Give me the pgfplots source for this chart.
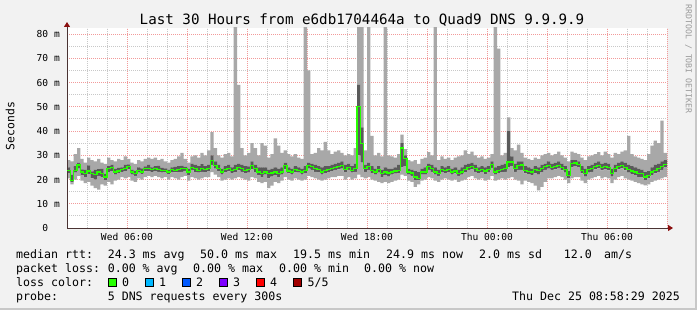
\documentclass[border=0pt]{standalone}
\usepackage{pgfplots}
\pgfplotsset{compat=1.18}
\usepackage{pgfplotstable}
\usetikzlibrary{arrows.meta}
\usepackage{fontspec}
\setmainfont{DejaVu Sans Mono}
\newfontfamily\mono{DejaVu Sans Mono}

\definecolor{bg}{HTML}{F2F2F2}
\definecolor{frame}{HTML}{C8C8C8}
\definecolor{gridred}{HTML}{F29A9A}
\definecolor{gridgray}{HTML}{C8C8C8}
\definecolor{smokelight}{HTML}{A8A8A8}
\definecolor{smokedark}{HTML}{5A5A5A}
\definecolor{medgreen}{HTML}{26FF00}
\definecolor{axiscol}{HTML}{4A3333}
\definecolor{arrowred}{HTML}{8B1010}
\definecolor{lossa}{HTML}{26FF00}
\definecolor{lossb}{HTML}{00B8FF}
\definecolor{lossc}{HTML}{0059FF}
\definecolor{lossd}{HTML}{7E00FF}
\definecolor{losse}{HTML}{FF0000}
\definecolor{lossf}{HTML}{A10000}
\definecolor{wmark}{HTML}{9A9A9A}

% one row per 10-minute step from Wed 03:00 (values in ms)
\pgfplotstableread{
lo q1 med q3 hi
20.5 22.6 23.8 25.0 28.0
18.0 18.8 19.5 22.0 27.5
20.0 22.8 23.8 25.5 30.5
21.5 24.5 26.0 27.0 33.0
19.5 21.8 23.1 24.2 28.5
18.5 21.0 22.4 24.0 27.0
19.0 22.2 23.5 25.8 29.0
17.5 20.5 22.4 23.4 28.0
16.5 20.0 22.1 24.0 27.5
15.8 21.5 23.1 24.3 28.5
18.0 21.0 22.4 24.5 27.0
17.5 19.8 21.0 22.3 26.5
19.0 23.0 24.4 25.5 29.0
18.0 23.5 25.1 26.0 28.0
19.5 22.0 23.1 24.5 27.5
20.0 22.6 23.5 24.8 28.5
21.0 23.0 24.0 25.0 28.0
20.5 23.5 24.4 26.0 29.5
21.0 24.2 25.4 26.2 28.5
19.5 22.0 23.1 24.0 27.0
19.0 21.5 22.4 23.6 26.5
20.5 22.8 23.8 25.0 28.0
20.0 22.2 23.1 24.6 27.5
21.0 23.4 24.4 25.4 28.5
21.5 23.5 24.4 26.0 29.0
21.0 23.0 24.0 25.0 28.5
21.5 23.5 24.4 25.5 29.0
21.0 23.2 24.0 25.6 28.0
20.5 22.8 23.8 24.8 28.5
21.0 23.0 23.8 24.6 27.5
20.0 22.2 23.1 24.0 27.0
21.0 23.0 24.0 25.0 28.0
20.5 22.9 23.8 25.2 28.5
20.0 23.0 24.0 25.5 29.5
21.0 23.2 24.4 25.6 31.0
21.5 23.6 24.4 25.2 28.5
19.5 21.8 23.1 24.5 27.0
21.0 24.0 25.1 26.5 29.5
20.5 23.0 24.4 26.0 30.0
20.0 22.8 23.8 25.5 29.0
20.5 23.2 24.4 26.3 31.0
21.0 23.0 24.0 25.5 30.0
21.0 23.5 24.4 26.0 32.0
23.0 26.0 27.9 30.0 39.5
22.0 24.5 25.8 27.5 33.0
21.0 23.5 24.5 26.0 30.0
19.5 22.0 23.1 24.5 29.0
20.0 23.0 24.0 25.5 30.5
20.5 23.4 24.4 26.0 31.0
20.0 22.6 23.8 25.0 29.5
20.5 23.0 24.0 26.0 90.0
21.0 23.8 24.9 26.5 59.0
20.5 23.2 24.4 26.0 33.0
20.0 22.6 23.8 25.5 30.0
19.5 22.8 24.0 25.4 31.0
21.0 24.2 25.8 27.5 35.0
20.5 23.0 24.4 26.0 33.0
19.0 21.8 23.1 25.0 30.0
18.5 21.0 22.4 25.0 35.0
19.0 22.0 23.1 25.0 34.0
16.4 20.5 22.4 24.0 29.0
17.5 21.2 22.7 24.5 30.5
19.0 21.8 23.1 25.0 37.0
18.5 21.0 22.4 24.5 34.0
19.5 22.0 23.1 25.0 31.0
21.0 24.2 25.8 27.0 32.0
20.0 22.5 23.5 25.0 30.5
19.5 22.0 23.1 24.5 29.5
20.5 23.0 24.0 25.5 30.5
20.0 22.8 23.8 25.0 29.0
19.5 22.0 23.1 24.5 28.5
20.0 22.6 23.8 25.5 90.0
21.5 24.5 25.8 27.0 65.0
21.0 24.0 25.4 26.5 30.5
20.5 23.2 24.4 26.0 31.0
20.0 23.0 24.0 25.5 33.0
19.5 22.0 23.1 25.0 32.0
20.0 22.6 23.8 25.5 35.5
20.5 23.0 24.0 25.5 32.0
21.0 23.5 24.4 26.0 30.5
21.0 24.0 25.1 26.5 31.5
21.5 24.2 25.4 27.0 32.0
21.5 24.5 25.8 27.5 31.0
20.0 23.0 24.0 26.0 30.0
21.0 24.0 25.1 26.5 30.5
20.0 22.8 23.8 25.5 30.0
20.5 23.2 24.4 26.5 33.0
22.0 30.0 50.0 59.0 90.0
21.0 27.0 35.0 41.5 90.0
20.5 23.2 24.4 26.0 32.0
21.0 24.0 25.4 27.0 90.0
20.0 22.6 23.8 25.5 38.0
19.5 22.0 23.1 24.5 30.0
19.0 22.8 24.0 25.5 31.0
18.5 21.0 22.4 24.0 29.5
19.0 21.8 23.1 25.0 90.0
18.5 21.2 22.7 24.5 30.0
19.0 22.0 23.1 24.5 29.5
19.5 22.4 23.5 25.0 29.0
20.0 22.6 23.8 26.0 30.5
22.0 25.0 33.0 35.0 38.5
21.5 25.5 28.8 30.0 32.5
19.5 22.0 23.1 24.5 28.0
19.0 21.5 22.7 24.0 27.5
17.0 19.8 21.0 23.5 28.0
18.0 19.6 20.4 23.0 26.5
19.5 22.0 23.1 24.5 28.5
20.0 22.0 23.1 25.0 29.0
21.0 24.0 25.4 26.5 31.3
20.5 23.2 24.4 26.0 30.0
19.5 22.0 23.1 25.0 90.0
19.0 21.5 22.4 24.0 28.0
20.0 23.0 24.0 25.5 29.5
20.5 22.6 23.8 25.0 28.5
20.0 23.0 24.0 25.5 29.0
19.5 22.0 23.1 24.5 28.0
20.0 22.5 23.5 25.0 29.0
19.0 21.5 22.4 24.0 29.5
19.5 22.0 23.1 25.0 30.0
20.0 23.0 24.0 26.0 32.0
21.0 24.0 25.1 26.5 30.5
21.5 24.2 25.4 27.0 31.5
20.5 23.2 24.4 26.0 30.0
20.0 22.6 23.8 25.0 29.0
20.5 23.0 24.0 25.5 29.5
19.5 22.2 23.5 25.0 28.5
20.0 23.0 24.0 25.5 29.0
21.5 24.8 26.2 27.5 30.5
19.5 22.0 23.1 25.0 90.0
20.0 22.6 23.8 25.5 74.0
20.5 23.0 24.0 26.0 30.0
20.0 23.2 24.4 26.5 31.0
20.5 25.0 27.2 40.0 45.6
21.0 25.5 27.2 29.5 33.0
20.0 23.2 24.5 26.5 32.0
19.5 24.0 25.8 27.5 34.4
18.0 24.0 26.0 27.5 31.0
19.5 22.5 23.8 25.5 29.0
19.0 22.2 23.4 25.0 28.5
18.5 21.8 23.1 24.5 28.0
17.5 22.5 24.0 25.5 29.0
15.5 22.0 23.8 25.0 28.5
17.0 23.0 24.4 26.0 30.0
19.0 24.0 25.4 26.5 30.5
20.5 24.5 25.8 27.5 31.0
20.5 24.0 25.1 26.5 30.0
21.0 24.2 25.4 27.0 30.5
21.5 24.8 25.8 27.5 31.5
21.0 23.8 25.1 26.5 30.0
20.0 22.8 24.0 25.5 29.0
18.5 20.5 21.7 23.5 27.5
20.5 25.0 26.5 28.0 31.5
21.0 25.5 26.8 28.0 31.0
21.0 25.0 26.2 27.5 30.5
19.5 22.5 23.8 25.5 29.0
18.5 21.2 22.4 24.5 28.0
20.0 22.8 24.0 25.5 29.5
20.5 23.2 24.4 26.0 30.0
21.0 24.2 25.4 27.0 30.5
21.5 24.6 25.8 27.5 31.3
20.5 23.8 25.1 26.5 30.0
21.0 24.2 25.4 27.0 31.5
20.5 23.8 24.9 26.5 30.5
18.5 21.2 22.4 24.5 29.0
20.0 23.0 24.4 26.0 31.0
21.0 24.2 25.4 27.0 30.5
21.5 24.6 25.8 27.5 31.5
20.5 23.8 25.1 27.0 32.0
20.0 22.8 24.0 26.0 38.0
19.5 22.2 23.5 25.5 30.5
19.0 21.8 23.1 25.0 29.5
18.5 21.0 22.4 24.5 29.0
18.0 21.0 22.4 24.0 28.5
17.6 19.8 21.0 23.0 28.0
18.0 20.5 21.7 23.5 30.5
19.0 21.8 23.1 25.0 34.0
19.5 22.5 23.8 26.0 36.0
20.0 23.2 24.4 26.5 35.0
20.5 24.0 25.4 27.5 44.3
21.0 25.0 26.2 28.0 31.0
21.0 25.0 26.2 28.0 31.0
}\rtt

\pgfplotsset{
  base/.style={
    at={(67bp,82bp)}, anchor=south west,
    scale only axis, width=600bp, height=200bp,
    xmin=0, xmax=30, ymin=0, ymax=82.5,
    clip=true,
  },
}

\begin{document}
\begin{tikzpicture}[x=1bp,y=1bp]
\fill[bg] (0,0) rectangle (697,310);
\useasboundingbox (0,0) rectangle (697,310);
\draw[frame, line width=2bp] (0,1) -- (696,1) -- (696,310);

% grid, smoke
\begin{axis}[base,
  axis background/.style={fill=white},
  axis lines=left,
  axis line style={draw=none},
  xtick={0,3,...,30},
  xticklabels={,Wed 06:00,,Wed 12:00,,Wed 18:00,,Thu 00:00,,Thu 06:00,},
  minor x tick num=2,
  ytick={0,10,...,80},
  yticklabels={0\hphantom{mm},10 m,20 m,30 m,40 m,50 m,60 m,70 m,80 m},
  minor y tick num=1,
  major tick length=0pt, minor tick length=0pt,
  grid=both,
  major grid style={draw=gridred, line width=1bp, dash pattern=on 1bp off 1bp},
  minor grid style={draw=gridgray, line width=1bp, dash pattern=on 1bp off 1bp},
  ticklabel style={font=\mono\fontsize{9.6bp}{11bp}\selectfont, text=black},
  yticklabel style={anchor=east, inner sep=0pt, xshift=-7bp},
  xticklabel style={anchor=north, inner sep=0pt, yshift=-5bp},
  ybar stacked, bar width=0.1667, bar shift=0pt,
]
\addplot[fill=none, draw=none] table[x expr=\coordindex/6+1/12, y=lo]{\rtt};
\addplot[fill=smokelight, draw=none] table[x expr=\coordindex/6+1/12, y expr=\thisrow{q1}-\thisrow{lo}]{\rtt};
\addplot[fill=smokedark, draw=none] table[x expr=\coordindex/6+1/12, y expr=\thisrow{q3}-\thisrow{q1}]{\rtt};
\addplot[fill=smokelight, draw=none] table[x expr=\coordindex/6+1/12, y expr=\thisrow{hi}-\thisrow{q3}]{\rtt};
\end{axis}

% median line and axis lines
\begin{axis}[base,
  axis lines=left,
  axis line style={draw=axiscol, line width=1bp,
    -{Triangle[length=5bp,width=6bp,color=arrowred]}, shorten >=-6bp},
  xtick=\empty, ytick=\empty,
]
\addplot[const plot, draw=medgreen, line width=1.2bp] table[x expr=\coordindex/6, y=med]{\rtt};
\end{axis}

% title and labels
\node[font=\mono\fontsize{14.2bp}{16bp}\selectfont, anchor=base, inner sep=0pt]
  at (362,285.5) {Last 30 Hours from e6db1704464a to Quad9 DNS 9.9.9.9};
\node[font=\mono\fontsize{11.4bp}{13bp}\selectfont, rotate=90, inner sep=0pt]
  at (10,184) {Seconds};
\node[font=\mono\fontsize{8.2bp}{9bp}\selectfont, rotate=-90, text=wmark, inner sep=0pt]
  at (688.5,251) {RRDTOOL / TOBI OETIKER};

% legend
\begin{scope}[every node/.style={font=\mono\fontsize{11.6bp}{13bp}\selectfont, anchor=base west, inner sep=0pt}]
\node at (16,51.5) {median rtt:};
\node at (107.6,51.5) {24.3 ms avg};
\node at (200,51.5) {50.0 ms max};
\node at (293,51.5) {19.5 ms min};
\node at (386,51.5) {24.9 ms now};
\node at (479,51.5) {2.0 ms sd};
\node at (563.6,51.5) {12.0};
\node at (604,51.5) {am/s};

\node at (16,37.5) {packet loss:};
\node at (107.6,37.5) {0.00 \% avg};
\node at (193,37.5) {0.00 \% max};
\node at (279,37.5) {0.00 \% min};
\node at (364,37.5) {0.00 \% now};

\node at (16,23.5) {loss color:};
\node at (122,23.5) {0};
\node at (159,23.5) {1};
\node at (196,23.5) {2};
\node at (233,23.5) {3};
\node at (270,23.5) {4};
\node at (307.5,23.5) {5/5};

\node at (16,9.5) {probe:};
\node at (107.6,9.5) {5 DNS requests every 300s};
\node[anchor=base east] at (680,9.5) {Thu Dec 25 08:58:29 2025};
\end{scope}
\draw[fill=lossa, draw=black, line width=0.6bp] (108,24) rectangle (116,32);
\draw[fill=lossb, draw=black, line width=0.6bp] (145,24) rectangle (153,32);
\draw[fill=lossc, draw=black, line width=0.6bp] (182,24) rectangle (190,32);
\draw[fill=lossd, draw=black, line width=0.6bp] (219,24) rectangle (227,32);
\draw[fill=losse, draw=black, line width=0.6bp] (256,24) rectangle (264,32);
\draw[fill=lossf, draw=black, line width=0.6bp] (293,24) rectangle (301,32);
\end{tikzpicture}
\end{document}
